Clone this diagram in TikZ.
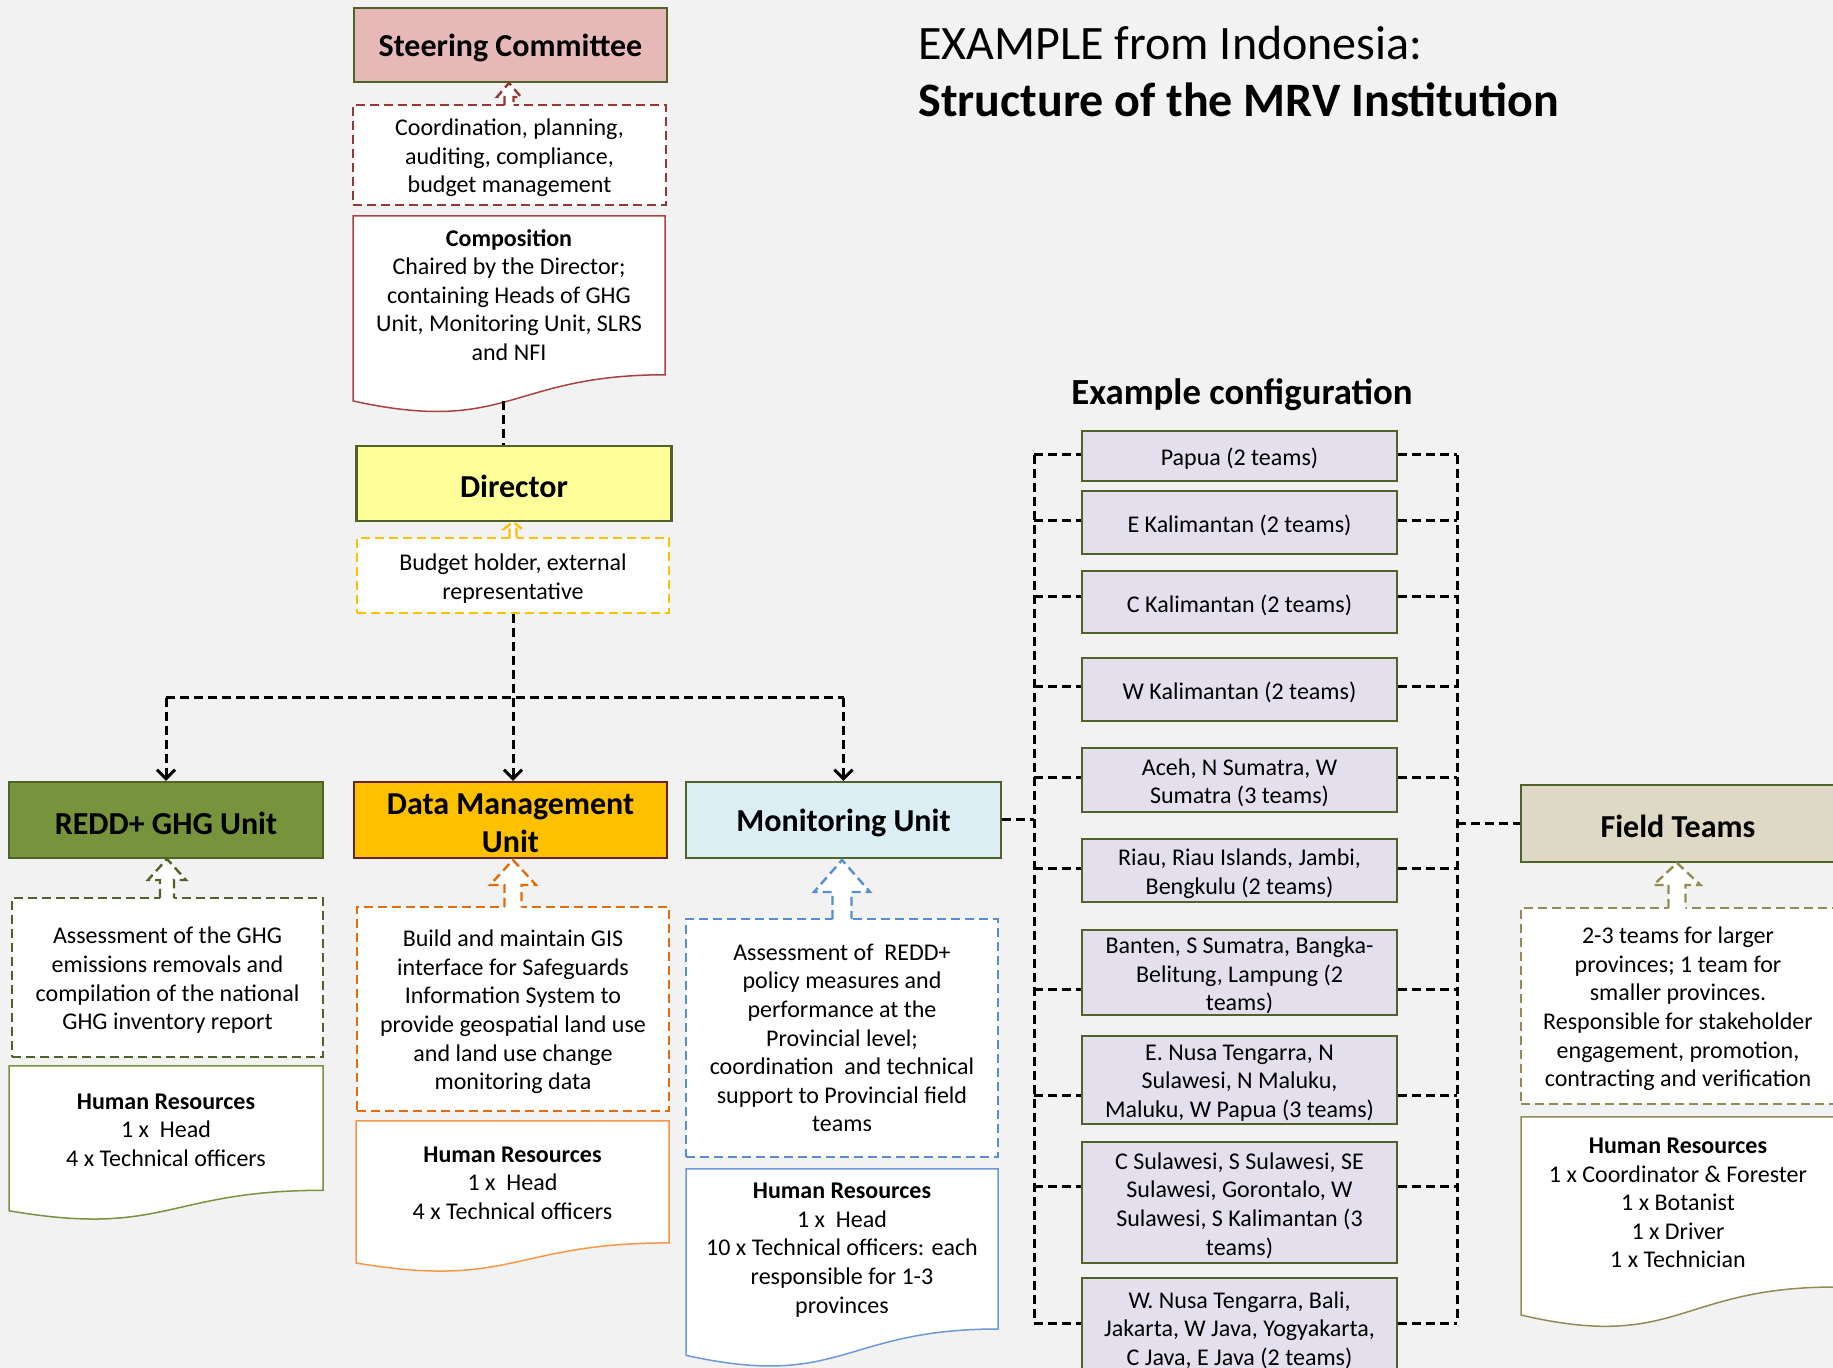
\documentclass[tikz,border=0pt]{standalone}
\usepackage{fontspec}
\setmainfont{Carlito}
\usetikzlibrary{arrows.meta}
\definecolor{bg}{HTML}{F2F2F2}
\definecolor{oliveline}{HTML}{4F6228}
\definecolor{steerfill}{HTML}{E6B9B8}
\definecolor{dirfill}{HTML}{FFFF99}
\definecolor{reddfill}{HTML}{77933C}
\definecolor{dmufill}{HTML}{FFC000}
\definecolor{dmuline}{HTML}{632523}
\definecolor{monfill}{HTML}{DBEEF4}
\definecolor{provfill}{HTML}{E4DFEC}
\definecolor{fieldfill}{HTML}{DDD9C4}
\definecolor{coordline}{HTML}{953735}
\definecolor{compline}{HTML}{A8433F}
\definecolor{budline}{HTML}{FFC000}
\definecolor{greenline}{HTML}{4F6228}
\definecolor{reddhr}{HTML}{77933C}
\definecolor{orangeline}{HTML}{E46C0A}
\definecolor{dmuhr}{HTML}{F79646}
\definecolor{blueline}{HTML}{558ED5}
\definecolor{bluehr}{HTML}{6A9BD8}
\definecolor{khaki}{HTML}{948A54}
\newcommand{\mybody}{\fontsize{12}{14.3}\selectfont}
\newcommand{\docshape}[5]{%
  \draw[#1, line width=0.75pt, fill=white] (#2,#4) -- (#3,#4) -- (#3,#4+0.802*#5)
    .. controls ({(#2+#3)/2},#4+0.802*#5) and ({(#2+#3)/2},#4+1.1075*#5) .. (#2,#4+0.934*#5) -- cycle;}
\newcommand{\blockup}[7]{%
  \fill[white] (#2-#6,#5+1.5) -- (#2-#6,#4) -- (#2-#7,#4) -- (#2,#3) -- (#2+#7,#4) -- (#2+#6,#4) -- (#2+#6,#5+1.5) -- cycle;
  \draw[#1, line width=1.2pt, dash pattern=on 4.5pt off 2.5pt] (#2-#6,#5) -- (#2-#6,#4) -- (#2-#7,#4) -- (#2,#3) -- (#2+#7,#4) -- (#2+#6,#4) -- (#2+#6,#5);}
% box node with its text set slightly lower than the geometric centre
\newcommand{\boxnode}[5]{%
  \node[#1] (#2) at (#3) {};
  \node[#4, yshift=-1.5pt] (#2t) at (#2.center) {#5};}
\begin{document}
\begin{tikzpicture}[x=0.5pt,y=-0.5pt,
  hdr/.style={draw=oliveline, line width=1.2pt, inner sep=0pt},
  hdrtext/.style={font=\fontsize{16}{19}\selectfont\bfseries, align=center, inner sep=0pt},
  dbox/.style={draw=#1, line width=1.2pt, dash pattern=on 4.5pt off 2.5pt, fill=white, inner sep=0pt},
  prov/.style={draw=oliveline, line width=1.2pt, fill=provfill, minimum width=157.5pt, inner sep=0pt},
  txt/.style={align=center, font=\mybody, inner sep=0pt},
  conn/.style={line width=1.5pt, dash pattern=on 4.5pt off 2.5pt},
  arr/.style={-{Straight Barb[length=4.5pt,width=9pt]}}]
\useasboundingbox[fill=bg] (0,0) rectangle (1833,1368);
\clip (0,0) rectangle (1833,1368);

% titles
\node[anchor=base west, font=\fontsize{24}{28}\selectfont, inner sep=0pt] (t1) at (918,60) {EXAMPLE from Indonesia:};
\node[anchor=base west, font=\fontsize{24}{28}\selectfont\bfseries, inner sep=0pt] (t2) at (918,117) {Structure of the MRV Institution};
\node[anchor=base, font=\fontsize{18.4}{22}\selectfont\bfseries, inner sep=0pt] (t3) at (1242,405) {Example configuration};

% left column
\boxnode{hdr, fill=steerfill, minimum width=156.5pt, minimum height=37pt}{steer}{510.5,45}{hdrtext}{Steering Committee}
\boxnode{dbox=coordline, minimum width=156.5pt, minimum height=50pt}{coord}{509.5,155}{txt}{Coordination, planning,\\auditing, compliance,\\budget management}
\docshape{compline}{353}{665}{216}{198}
\node[txt] (comp) at (509,295) {\textbf{Composition}\\Chaired by the Director;\\containing Heads of GHG\\Unit, Monitoring Unit, SLRS\\and NFI};
\coordinate (compbot) at (503,401);
\boxnode{hdr, fill=dirfill, minimum width=157.5pt, minimum height=37.5pt}{dir}{514,483.5}{hdrtext}{Director}
\boxnode{dbox=budline, minimum width=156pt, minimum height=37.5pt}{bud}{513,575.5}{txt}{Budget holder, external\\representative}

% units
\boxnode{hdr, fill=reddfill, minimum width=157pt, minimum height=38pt}{redd}{166,820}{hdrtext}{REDD+ GHG Unit}
\boxnode{dbox=greenline, minimum width=155.5pt, minimum height=79.5pt}{g1}{167.5,977.5}{txt}{Assessment of the GHG\\emissions removals and\\compilation of the national\\GHG inventory report}
\docshape{reddhr}{9}{323}{1066}{155}
\node[txt] (rhr) at (166,1130) {\textbf{Human Resources}\\1 x\ \ Head\\4 x Technical officers};

\boxnode{hdr, fill=dmufill, draw=dmuline, minimum width=156.5pt, minimum height=38pt}{dmu}{510.5,820}{hdrtext}{Data Management\\Unit}
\boxnode{dbox=orangeline, minimum width=156pt, minimum height=102pt}{o1}{513,1009}{txt}{Build and maintain GIS\\interface for Safeguards\\Information System to\\provide geospatial land use\\and land use change\\monitoring data}
\docshape{dmuhr}{356}{669}{1121}{152}
\node[txt] (dhr) at (512.5,1183) {\textbf{Human Resources}\\1 x\ \ Head\\4 x Technical officers};

\boxnode{hdr, fill=monfill, minimum width=157.5pt, minimum height=38pt}{mon}{843.5,820}{hdrtext}{Monitoring Unit}
\node[dbox=blueline, minimum width=156pt, minimum height=119pt] (b1) at (842,1038) {};
\node[txt] (b1t) at (b1.center) {Assessment of\ \ REDD+\\policy measures and\\performance at the\\Provincial level;\\coordination\ \ and technical\\support to Provincial field\\teams};
\docshape{bluehr}{686}{998}{1169}{199.5}
\node[txt] (mhr) at (842,1250) {\textbf{Human Resources}\\1 x\ \ Head\\10 x Technical officers: each\\responsible for 1-3\\provinces};

% provinces
\boxnode{prov, minimum height=25pt}{p1}{1239.5,456}{txt}{Papua (2 teams)}
\boxnode{prov, minimum height=31.5pt}{p2}{1239.5,522.5}{txt}{E Kalimantan (2 teams)}
\boxnode{prov, minimum height=31pt}{p3}{1239.5,602}{txt}{C Kalimantan (2 teams)}
\boxnode{prov, minimum height=31.5pt}{p4}{1239.5,689.5}{txt}{W Kalimantan (2 teams)}
\boxnode{prov, minimum height=32pt}{p5}{1239.5,780}{txt}{Aceh, N Sumatra, W\\Sumatra (3 teams)}
\boxnode{prov, minimum height=31.5pt}{p6}{1239.5,870.5}{txt}{Riau, Riau Islands, Jambi,\\Bengkulu (2 teams)}
\boxnode{prov, minimum height=42.5pt}{p7}{1239.5,972.5}{txt}{Banten, S Sumatra, Bangka-\\Belitung, Lampung (2\\teams)}
\boxnode{prov, minimum height=44pt}{p8}{1239.5,1080}{txt}{E. Nusa Tengarra, N\\Sulawesi, N Maluku,\\Maluku, W Papua (3 teams)}
\boxnode{prov, minimum height=60.5pt}{p9}{1239.5,1202.5}{txt}{C Sulawesi, S Sulawesi, SE\\Sulawesi, Gorontalo, W\\Sulawesi, S Kalimantan (3\\teams)}
\boxnode{prov, minimum height=49pt}{p10}{1239.5,1327}{txt}{W. Nusa Tengarra, Bali,\\Jakarta, W Java, Yogyakarta,\\C Java, E Java (2 teams)}

% field teams
\boxnode{hdr, fill=fieldfill, minimum width=157pt, minimum height=38.5pt}{field}{1678,823.5}{hdrtext}{Field Teams}
\boxnode{dbox=khaki, minimum width=157pt, minimum height=98pt}{f1}{1678,1006}{txt}{2-3 teams for larger\\provinces; 1 team for\\smaller provinces.\\Responsible for stakeholder\\engagement, promotion,\\contracting and verification}
\docshape{khaki}{1521}{1835}{1117}{212}
\node[txt] (fhr) at (1678,1203) {\textbf{Human Resources}\\1 x Coordinator \& Forester\\1 x Botanist\\1 x Driver\\1 x Technician};

% block arrows
\blockup{coordline}{509}{83}{97}{105}{4.5}{12}
\blockup{budline}{513}{522}{529}{538}{3.5}{9}
\blockup{greenline}{167}{859}{880}{898}{7}{19}
\blockup{orangeline}{513}{860}{885}{907}{8.5}{23}
\blockup{blueline}{842}{860}{892}{919}{9.5}{28}
\blockup{khaki}{1677}{863}{885}{908}{8.5}{23.5}

% black connectors
\draw[conn] (compbot) -- (compbot |- dir.north);
\coordinate (busL) at (166,698);
\coordinate (busR) at (843.5,698);
\draw[conn] (busL) -- (busR);
\draw[conn,arr] (bud.south) -- (bud.south |- dmu.north);
\draw[conn,arr] (busL) -- (redd.north);
\draw[conn,arr] (busR) -- (mon.north);

\foreach \i/\yy in {1/455,2/521,3/597,4/687,5/778,6/869,7/990,8/1096,9/1186,10/1323}{
  \coordinate (L\i) at (1034,\yy);
  \coordinate (R\i) at (1457,\yy);
  \draw[conn] (L\i) -- (L\i -| p\i.west);
  \draw[conn] (R\i -| p\i.east) -- (R\i);
}
\draw[conn] (L1) -- (L10);
\draw[conn] (R1) -- (R10);
\draw[conn] (mon.east) -- (mon.east -| L1);
\draw[conn] (field.west -| R1) -- (field.west);
\end{tikzpicture}
\end{document}
